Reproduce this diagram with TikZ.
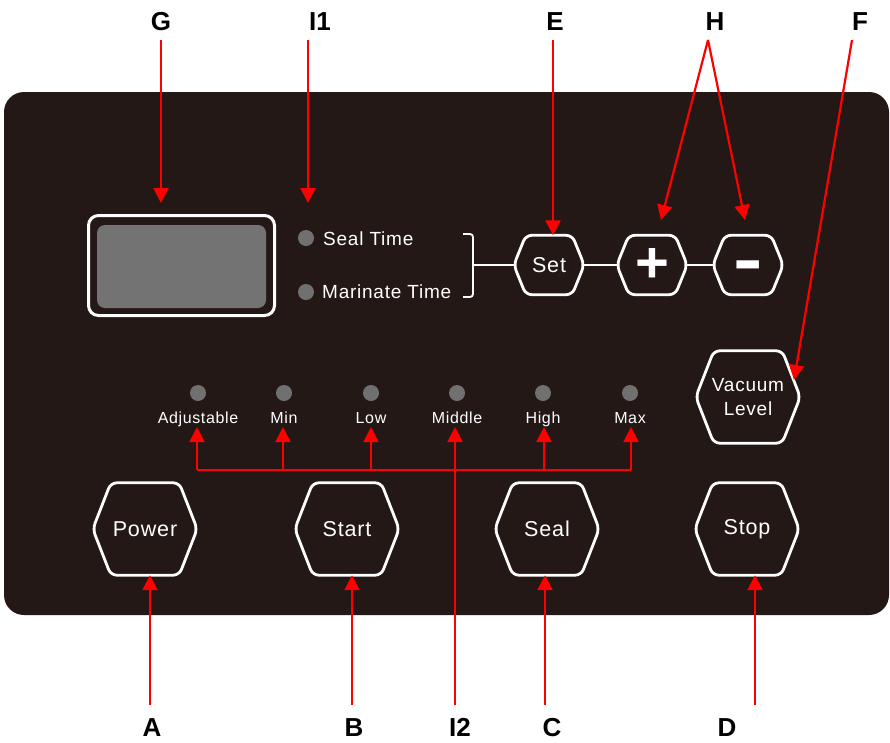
\documentclass[tikz,border=0pt]{standalone}
\usepackage{fontspec}
\setmainfont{Liberation Sans}
\newfontfamily\panelfont{Liberation Sans}[LetterSpace=4]
\usetikzlibrary{arrows.meta}
\definecolor{panel}{HTML}{231815}
\definecolor{ledgray}{HTML}{707070}
\definecolor{lcdgray}{HTML}{737373}
\definecolor{arrowred}{HTML}{FF0000}
\tikzset{
  panelbox/.style={fill=panel, rounded corners=20pt},
  bighex/.style={minimum width=104pt, minimum height=92pt, inner sep=0pt, text=white,
    font=\panelfont\fontsize{21.5}{24}\selectfont, align=center},
  smallhex/.style={minimum width=70pt, minimum height=59pt, inner sep=0pt, text=white,
    font=\panelfont\fontsize{21.5}{24}\selectfont},
  hexline/.style={draw=white, line width=2.8pt, rounded corners=6pt},
  wireline/.style={draw=white, line width=1.8pt},
  led/.style={circle, fill=ledgray, minimum size=16pt, inner sep=0pt},
  paneltext/.style={text=white, font=\panelfont\fontsize{19}{19}\selectfont, inner sep=0pt},
  ledtext/.style={text=white, font=\panelfont\fontsize{16}{16}\selectfont, anchor=base, inner sep=0pt},
  callout/.style={font=\bfseries\fontsize{26}{26}\selectfont, anchor=base, inner sep=0pt},
  redline/.style={draw=arrowred, line width=2.2pt},
  redarrow/.style={redline, -{Triangle[width=15pt,length=15pt]}},
}
\newcommand\hexoutline[2]{%
  \draw[hexline] (#1.west) -- ([xshift=#2]#1.north west) -- ([xshift=-#2]#1.north east)
    -- (#1.east) -- ([xshift=-#2]#1.south east) -- ([xshift=#2]#1.south west) -- cycle;}
\begin{document}
\begin{tikzpicture}[x=1pt,y=-1pt]
\useasboundingbox (0,0) rectangle (890,742);
\fill[white] (0,0) rectangle (890,742);
% panel
\path[panelbox] (4,92) rectangle (889,615);

% display
\node[draw=white, line width=3pt, rounded corners=10pt, minimum width=186pt, minimum height=100pt, inner sep=0pt] (display) at (181.5,265.5) {};
\node[fill=lcdgray, rounded corners=8pt, minimum width=169pt, minimum height=83pt, inner sep=0pt] (lcd) at (181.5,266.5) {};

% time indicators
\node[led] (sealled) at (306,238) {};
\node[paneltext, anchor=base west] (sealtxt) at (323,245) {Seal Time};
\node[led] (marled) at (306,292) {};
\node[paneltext, anchor=base west] (martxt) at (322,298) {Marinate Time};

% small buttons
\node[smallhex] (set) at (549,265) {Set};
\node[smallhex, font=\bfseries\fontsize{58}{58}\selectfont] (plus) at (652,265) {\raisebox{-0.05em}{+}};
\node[smallhex, font=\bfseries\fontsize{68}{68}\selectfont] (minus) at (748,265) {\raisebox{-0.26em}[0pt][0pt]{\scalebox{1.3}[1]{-}}};
\hexoutline{set}{12pt}
\hexoutline{plus}{12pt}
\hexoutline{minus}{12pt}

% bracket and wires
\draw[wireline, rounded corners=3pt] (463,234) -- (473,234) -- (473,297) -- (463,297);
\coordinate (brk) at (473,265);
\draw[wireline] (brk) -- (set.west);
\draw[wireline] (set.east) -- (plus.west);
\draw[wireline] (plus.east) -- (minus.west);

% vacuum level
\node[bighex, font=\panelfont\fontsize{19}{24}\selectfont] (vac) at (748,397) {Vacuum\\Level};
\hexoutline{vac}{18pt}

% level indicators
\foreach \nm/\x/\txt in {adj/198/Adjustable, min/284/Min, low/371/Low, mid/457/Middle, high/543/High, max/630/Max}{
  \node[led] (led\nm) at (\x,393) {};
  \node[ledtext] (lbl\nm) at (\x,423) {\txt};
}

% big buttons
\node[bighex] (power) at (145,529) {Power};
\node[bighex] (start) at (347,529) {Start};
\node[bighex] (seal) at (547,529) {Seal};
\node[bighex] (stop) at (747,529) {Stop};
\hexoutline{power}{18pt}
\hexoutline{start}{18pt}
\hexoutline{seal}{18pt}
\hexoutline{stop}{18pt}

% callout labels
\node[callout] (labG) at (161,30) {G};
\node[callout] (labI1) at (320,30) {I1};
\node[callout] (labE) at (555,30) {E};
\node[callout] (labH) at (715,30) {H};
\node[callout] (labF) at (860,30) {F};
\node[callout] (labA) at (152,736) {A};
\node[callout] (labB) at (354,736) {B};
\node[callout] (labI2) at (460,736) {I2};
\node[callout] (labC) at (552,736) {C};
\node[callout] (labD) at (727,736) {D};

% callout start points
\coordinate (sG) at (161,40);
\coordinate (sI1) at (308,40);
\coordinate (sE) at (553,40);
\coordinate (sH) at (708,40);
\coordinate (sF) at (852,40);
\coordinate (sA) at (150,705);
\coordinate (sB) at (352,705);
\coordinate (sI2) at (455,705);
\coordinate (sC) at (545,705);
\coordinate (sD) at (755,705);

% callout tips
\coordinate (tG) at (161,203);
\coordinate (tI1) at (308,203);
\coordinate (tHl) at (661,220);
\coordinate (tHr) at (745,220);
\coordinate (tF) at (794,380);
\coordinate (tiprow) at (0,427);

\draw[redarrow] (sG) -- (tG);
\draw[redarrow] (sI1) -- (tI1);
\draw[redarrow] (sE) -- (sE |- set.north);
\draw[redarrow] (sH) -- (tHl);
\draw[redarrow] (sH) -- (tHr);
\draw[redarrow] (sF) -- (tF);
\draw[redarrow] (sA) -- (sA |- power.south);
\draw[redarrow] (sB) -- (sB |- start.south);
\draw[redarrow] (sC) -- (sC |- seal.south);
\draw[redarrow] (sD) -- (sD |- stop.south);

% level bus
\coordinate (busL) at (197,470);
\coordinate (busR) at (631,470);
\draw[redline] (busL) -- (busR);
\foreach \x in {197,283,371,544,631}{
  \coordinate (bus\x) at (\x,470);
  \draw[redarrow] (bus\x) -- (bus\x |- tiprow);
}
\draw[redarrow] (sI2) -- (sI2 |- tiprow);
\end{tikzpicture}
\end{document}
